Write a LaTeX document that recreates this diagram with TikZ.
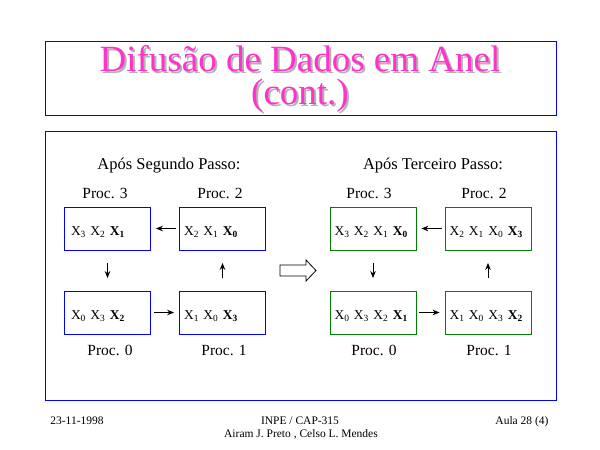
\documentclass[tikz,border=0pt]{standalone}
\usepackage{fontspec}
\setmainfont{Liberation Serif}
\usetikzlibrary{arrows,arrows.meta}
\definecolor{titlepink}{RGB}{255,51,204}
\definecolor{shadowgray}{RGB}{178,178,178}
\definecolor{boxgreen}{RGB}{0,128,0}

\newcommand{\xn}[1]{X\textsubscript{#1}}
\newcommand{\xbf}[1]{\textbf{X\textsubscript{#1}}}

\begin{document}
\begin{tikzpicture}[x=1pt,y=-1pt,>={Stealth[length=7pt,width=5.5pt]},
  frame/.style={draw=blue,line width=1pt},
  procbox/.style={draw=#1,line width=0.8pt,minimum width=86pt,minimum height=43pt,
    text width=77pt,align=left,inner xsep=4.5pt,text height=14pt,text depth=0pt,
    font=\fontsize{13.5}{15}\selectfont},
  proclabel/.style={anchor=base,font=\fontsize{15.5}{17}\selectfont},
  steplabel/.style={anchor=base,font=\fontsize{16.5}{18}\selectfont},
  titletext/.style={anchor=base,align=center,font=\fontsize{37}{33}\selectfont},
  foot/.style={anchor=base,font=\fontsize{11.5}{13}\selectfont},
  hlink/.style={->,line width=0.8pt,shorten <=3pt,shorten >=5pt},
  vlink/.style={->,line width=0.8pt,shorten <=12.5pt,shorten >=12.5pt}]

\useasboundingbox (0,0) rectangle (600,450);

% title
\draw[frame] (45,41) rectangle (556,115);
\node[titletext,text=shadowgray] at (302,106) {Difusão de Dados em Anel\\(cont.)};
\node[titletext,text=titlepink] (title) at (300,104) {Difusão de Dados em Anel\\(cont.)};

\draw[frame] (45,131) rectangle (556,400);

% after second step
\node[steplabel] (segundo) at (169,169) {Após Segundo Passo:};

\node[procbox=blue] (sa3) at (107.5,228.5) {\hspace{2pt}\xn{3} \xn{2} \xbf{1}};
\node[procbox=blue] (sa2) at (222.5,228.5) {\xn{2} \xn{1} \xbf{0}};
\node[procbox=blue] (sa0) at (107.5,312.5) {\hspace{2pt}\xn{0} \xn{3} \xbf{2}};
\node[procbox=blue] (sa1) at (222.5,312.5) {\xn{1} \xn{0} \xbf{3}};

\node[proclabel] (la3) at (105,198) {Proc. 3};
\node[proclabel] (la2) at (220,198) {Proc. 2};
\node[proclabel] (la0) at (110,355) {Proc. 0};
\node[proclabel] (la1) at (224,355) {Proc. 1};

\draw[hlink] (sa2) -- (sa3);
\draw[vlink] (sa3) -- (sa0);
\draw[hlink] (sa0) -- (sa1);
\draw[vlink] (sa1) -- (sa2);

% block arrow
\draw[line width=0.8pt] (280,265) -- (306,265) -- (306,260) -- (316,270.5)
  -- (306,281) -- (306,276) -- (280,276) -- cycle;

% after third step
\node[steplabel] (terceiro) at (433,169) {Após Terceiro Passo:};

\node[procbox=boxgreen] (sb3) at (373,228.5) {\xn{3} \xn{2} \xn{1} \xbf{0}};
\node[procbox=boxgreen] (sb2) at (488,228.5) {\xn{2} \xn{1} \xn{0} \xbf{3}};
\node[procbox=boxgreen] (sb0) at (373,312.5) {\xn{0} \xn{3} \xn{2} \xbf{1}};
\node[procbox=boxgreen] (sb1) at (488,312.5) {\xn{1} \xn{0} \xn{3} \xbf{2}};

\node[proclabel] (lb3) at (369,198) {Proc. 3};
\node[proclabel] (lb2) at (484,198) {Proc. 2};
\node[proclabel] (lb0) at (374,355) {Proc. 0};
\node[proclabel] (lb1) at (489,355) {Proc. 1};

\draw[hlink] (sb2) -- (sb3);
\draw[vlink] (sb3) -- (sb0);
\draw[hlink] (sb0) -- (sb1);
\draw[vlink] (sb1) -- (sb2);

% footer
\node[foot] (data) at (77,424) {23-11-1998};
\node[foot] (curso) at (300,424) {INPE / CAP-315};
\node[foot] (autores) at (301,437) {Airam J. Preto , Celso L. Mendes};
\node[foot] (aula) at (522,424) {Aula 28 (4)};
\end{tikzpicture}
\end{document}
